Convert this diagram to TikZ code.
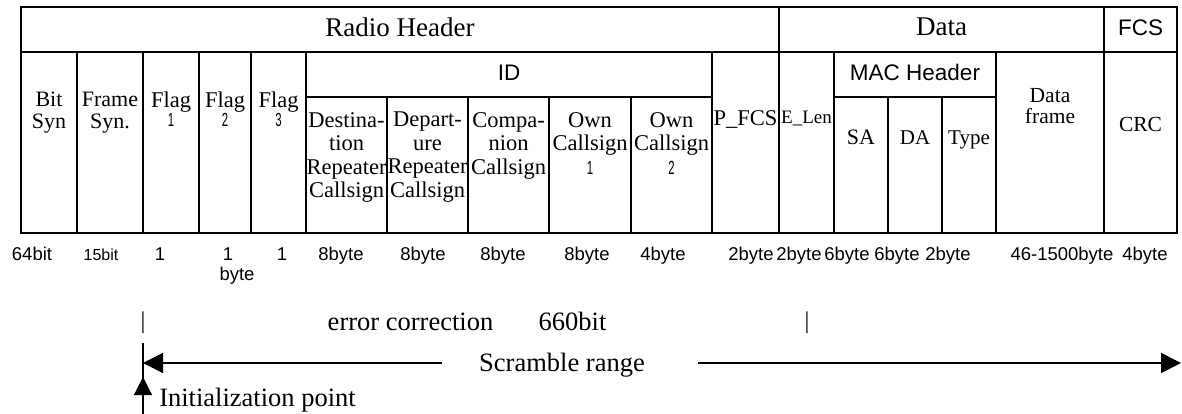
\documentclass[tikz,border=0pt]{standalone}
\usepackage{fontspec}
\setmainfont{Liberation Serif}
\setsansfont{Liberation Sans}
\usetikzlibrary{arrows.meta}

\newcommand{\sz}[2]{\fontsize{#1}{#2}\selectfont}
\newcommand{\flagnum}[1]{{\sffamily\sz{19}{19}\scalebox{0.6}[1]{#1}}}

\begin{document}
\begin{tikzpicture}[x=1pt, y=-1pt,
tableline/.style={line width=1.6pt},
hdr/.style={anchor=base, inner sep=0pt, font=\sz{27}{29}},
hdrsf/.style={anchor=base, inner sep=0pt, font=\sffamily\sz{22.5}{24}},
txt/.style={anchor=base, inner sep=0pt, font=\sz{22.5}{23.5}},
cell/.style={anchor=north, align=center, inner sep=0pt, font=\sz{22.5}{23.5}},
bytes/.style={anchor=base, inner sep=0pt, font=\sffamily\sz{18.5}{20}},
bottomtxt/.style={anchor=base, inner sep=0pt, font=\sz{26.5}{28}},
tick/.style={inner sep=0pt, font=\sz{24}{24}},
arr/.style={line width=1.6pt, -{Triangle[length=20pt, width=20pt]}}
]
\useasboundingbox (0,0) rectangle (1182,414);

% frame grid
\draw[tableline] (21,7) rectangle (1177,233);
\draw[tableline] (21,52) -- (1177,52);
\draw[tableline] (306,97) -- (712,97);
\draw[tableline] (834,97) -- (996,97);
\draw[tableline] (779,7) -- (779,233);
\draw[tableline] (1104,7) -- (1104,233);
\foreach \x in {77,143,199,251,306,712,834,996}
  \draw[tableline] (\x,52) -- (\x,233);
\foreach \x in {387,468,549,631,888,942}
  \draw[tableline] (\x,97) -- (\x,233);

\node (radio) at (400,37) [hdr] {Radio Header};
\node (data) at (941.5,36) [hdr] {Data};
\node (fcs) at (1140.5,36) [hdrsf] {FCS};
\node (id) at (509,81) [hdrsf] {ID};
\node (mac) at (915,81) [hdrsf] {MAC Header};

\node (bitsyn) at (49,92) [cell, font=\sz{22}{21.5}] {Bit\\Syn};
\node (framesyn) at (110,92) [cell, font=\sz{22}{21.5}] {Frame\\Syn.};
\node (flag1) at (171,92) [cell] {Flag\\[-5pt]\flagnum{1}};
\node (flag2) at (225,92) [cell] {Flag\\[-5pt]\flagnum{2}};
\node (flag3) at (278.5,92) [cell] {Flag\\[-5pt]\flagnum{3}};
\node (dest) at (346.5,112) [cell] {Destina-\\tion\\Repeater\\Callsign};
\node (dep) at (427.5,112) [cell] {Depart-\\ure\\Repeater\\Callsign};
\node (comp) at (508.5,112) [cell] {Compa-\\nion\\Callsign};
\node (own1) at (590,112) [cell] {Own\\Callsign\\\flagnum{1}};
\node (own2) at (671.5,112) [cell] {Own\\Callsign\\\flagnum{2}};
\node (pfcs) at (745.5,126) [txt] {P\_FCS};
\node (elen) at (806.5,124) [txt, font=\sz{19}{20}] {E\_Len};
\node (sa) at (861,145) [txt, font=\sz{22}{22}] {SA};
\node (da) at (915,145) [txt, font=\sz{21}{22}] {DA};
\node (type) at (969,145) [txt, font=\sz{21}{22}] {Type};
\node (dframe) at (1050,88) [cell, font=\sz{21.5}{21}] {Data\\frame};
\node (crc) at (1140.5,132) [txt, font=\sz{21.5}{22}] {CRC};

% field lengths
\foreach \x/\t [count=\i] in {32/64bit, 160/1, 228/1, 282/1, 341/8byte, 423/8byte,
    503/8byte, 587/8byte, 663/4byte, 751/2byte, 799/2byte, 847/6byte,
    897/6byte, 948/2byte, 1062/46-1500byte, 1145/4byte}
  \node (len\i) at (\x,260) [bytes] {\t};
\node (lenfs) at (101,260) [bytes, font=\sffamily\sz{16}{18}] {15bit};
\node (flagunit) at (237,280) [bytes] {byte};

% error correction / scramble
\node (tickL) at (143,322.5) [tick] {|};
\node (tickR) at (807,322.5) [tick] {|};
\node (ecc) at (410.5,330) [bottomtxt] {error correction};
\node (eccbits) at (572.5,330) [bottomtxt] {660bit};
\node (scr) at (562,371) [bottomtxt] {Scramble range};

\coordinate (scrL) at (442,363);
\coordinate (scrR) at (698,363);
\coordinate (rangeL) at (143,363);
\coordinate (rangeR) at (1181,363);
\draw[arr] (scrL) -- (rangeL);
\draw[arr] (scrR) -- (rangeR);

\coordinate (initTop) at (143,343);
\coordinate (initTip) at (143,377);
\coordinate (initBot) at (143,414);
\draw[line width=1.2pt] (initTop) -- (initBot);
\draw[line width=1.2pt, -{Triangle[length=18pt, width=18pt]}] (initBot) -- (initTip);
\node (init) at (257.5,406) [bottomtxt] {Initialization point};

\end{tikzpicture}
\end{document}
